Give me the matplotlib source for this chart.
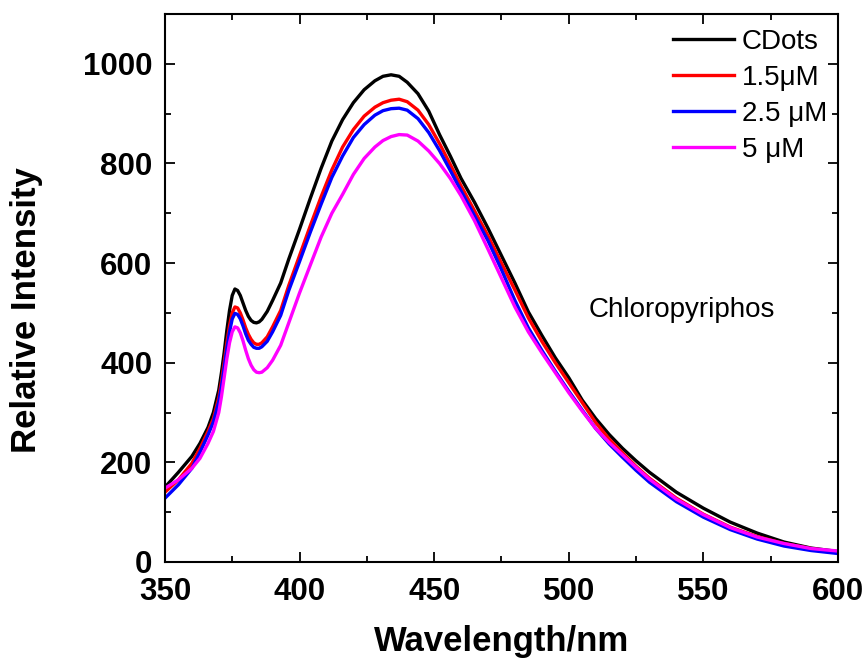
import matplotlib
matplotlib.use("Agg")
import matplotlib.pyplot as plt
from matplotlib.ticker import MultipleLocator

plt.rcParams['font.family'] = ['Liberation Sans', 'DejaVu Sans']

wavelength = [350, 355, 360, 363, 366, 368, 370, 371, 372, 373, 374, 375, 376, 377, 378,
              379, 380, 381, 382, 383, 384, 385, 386, 388, 390, 393, 396, 400, 404, 408,
              412, 416, 420, 424, 428, 431, 434, 437, 440, 444, 448, 452, 456, 460, 465,
              470, 475, 480, 485, 490, 495, 500, 505, 510, 515, 520, 525, 530, 540, 550,
              560, 570, 580, 590, 600]

cdots = [150, 180, 212, 238, 270, 300, 345, 380, 420, 465, 505, 535, 548, 545, 535,
         520, 505, 493, 485, 481, 480, 482, 487, 503, 525, 560, 608, 668, 730, 790,
         845, 888, 922, 948, 966, 975, 978, 975, 963, 940, 905, 858, 815, 770, 722,
         670, 615, 560, 502, 455, 410, 370, 325, 288, 256, 228, 203, 180, 140, 108,
         80, 58, 40, 28, 21]

c15 = [140, 165, 198, 228, 262, 288, 330, 362, 400, 440, 475, 500, 512, 510, 500,
       486, 470, 457, 447, 440, 437, 437, 440, 452, 472, 505, 555, 615, 675, 733,
       787, 833, 868, 895, 913, 922, 927, 929, 924, 907, 878, 840, 798, 755, 705,
       655, 600, 546, 490, 443, 400, 360, 320, 280, 247, 219, 192, 168, 128, 96,
       70, 51, 37, 27, 20]

c25 = [128, 155, 188, 220, 255, 281, 322, 352, 390, 428, 462, 488, 499, 497, 488,
       474, 458, 445, 437, 431, 429, 429, 432, 443, 462, 495, 545, 603, 662, 718,
       772, 815, 852, 878, 897, 906, 910, 911, 907, 890, 862, 826, 786, 745, 695,
       645, 587, 525, 470, 425, 383, 343, 305, 268, 237, 210, 184, 160, 121, 90,
       65, 46, 32, 23, 17]

c5 = [148, 165, 188, 208, 238, 262, 300, 332, 370, 408, 440, 462, 472, 470, 460,
      444, 425, 408, 395, 386, 381, 380, 381, 390, 405, 435, 480, 540, 596, 652,
      700, 738, 778, 810, 833, 846, 854, 858, 857, 845, 825, 800, 770, 735, 685,
      628, 570, 512, 462, 420, 380, 340, 303, 268, 240, 215, 190, 166, 126, 95,
      69, 50, 37, 27, 22]

series = [
    ("CDots", cdots, "black"),
    ("1.5\u03bcM", c15, "red"),
    ("2.5 \u03bcM", c25, "blue"),
    ("5 \u03bcM", c5, "magenta"),
]

fig = plt.figure(figsize=(8.68, 6.68), dpi=100)
ax = fig.add_axes([0.190, 0.1587, 0.7754, 0.8203])

for label, values, color in series:
    ax.plot(wavelength, values, color=color, lw=2.4, label=label,
            solid_joinstyle='round')

ax.set_xlim(350, 600)
ax.set_ylim(0, 1100)
ax.xaxis.set_major_locator(MultipleLocator(50))
ax.xaxis.set_minor_locator(MultipleLocator(25))
ax.yaxis.set_major_locator(MultipleLocator(200))
ax.yaxis.set_minor_locator(MultipleLocator(100))
ax.tick_params(which='both', direction='in', top=True, right=True, width=1.3)
ax.tick_params(which='major', length=7.5, labelsize=22.5)
ax.tick_params(axis='x', which='major', pad=11)
ax.tick_params(axis='y', which='major', pad=9)
ax.tick_params(which='minor', length=4.5)
for lab in ax.get_xticklabels() + ax.get_yticklabels():
    lab.set_fontweight('bold')
for sp in ax.spines.values():
    sp.set_linewidth(1.5)

ax.set_xlabel("Wavelength/nm", fontsize=25, fontweight='bold')
ax.set_ylabel("Relative Intensity", fontsize=25, fontweight='bold')
ax.xaxis.set_label_coords(0.5, -0.115)
ax.yaxis.set_label_coords(-0.181, 0.459)

ax.text(542, 506, "Chloropyriphos", fontsize=20, ha='center', va='center')

ax.legend(loc='upper right', frameon=False, fontsize=20, handlelength=2.2,
          handletextpad=0.3, labelspacing=0.36, borderaxespad=0.2,
          bbox_to_anchor=(1.009, 1.004))

fig.savefig("out.png", dpi=100)
